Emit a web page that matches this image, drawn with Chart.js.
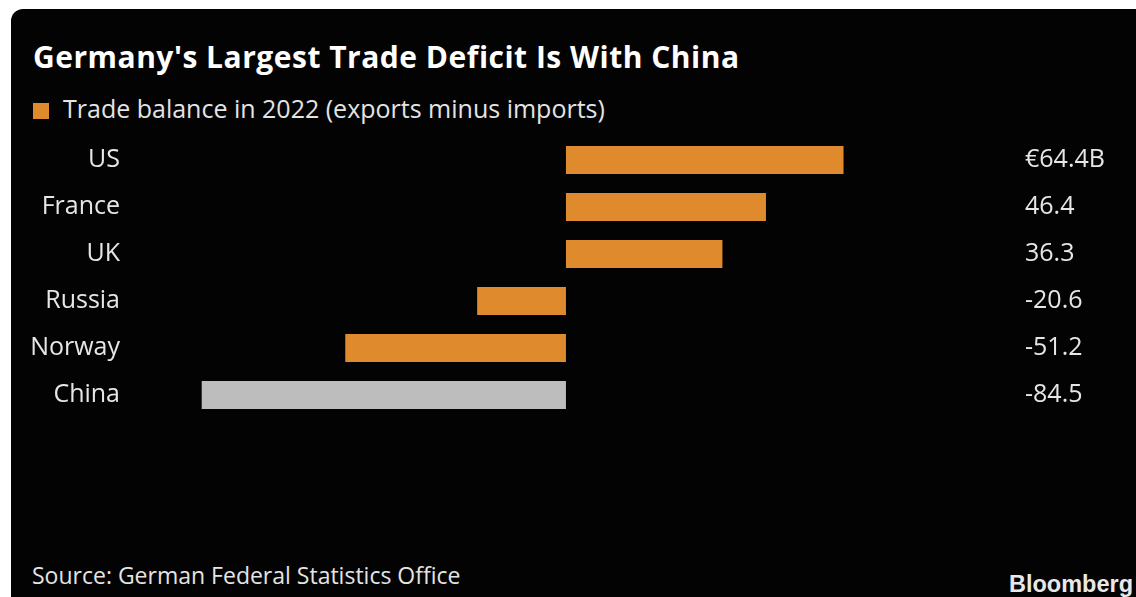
<!DOCTYPE html>
<html>
<head>
<meta charset="utf-8">
<script src="https://cdn.jsdelivr.net/npm/chart.js@4"></script>
<style>
  html, body { margin: 0; padding: 0; background: #fff; width: 1136px; height: 597px; overflow: hidden; }
  #panel { position: absolute; left: 11px; top: 9px; right: 0; bottom: 0; background: #030303; border-top-left-radius: 12px; }
  .txt { position: absolute; white-space: nowrap; line-height: 1; font-family: "Open Sans", sans-serif; }
  #title { left: 33px; top: 42px; font-size: 30px; font-weight: 700; color: #fff; letter-spacing: 0.5px; }
  #legendBox { position: absolute; left: 33px; top: 103px; width: 16px; height: 16px; background: #e08a2e; }
  #legendText { left: 63px; top: 96px; font-size: 25px; color: #e4e4e4; }
  #source { left: 32px; top: 564px; font-size: 23px; color: #e4e4e4; }
  #brand { right: 3px; top: 573px; font-size: 23.5px; font-weight: 700; color: #e8e8e8; font-family: "Liberation Sans", Arial, sans-serif; }
  #wrap { position: absolute; left: 0; top: 0; width: 1136px; height: 597px; }
</style>
</head>
<body>
<div id="panel"></div>
<div class="txt" id="title">Germany's Largest Trade Deficit Is With China</div>
<div id="legendBox"></div>
<div class="txt" id="legendText">Trade balance in 2022 (exports minus imports)</div>
<div class="txt" id="source">Source: German Federal Statistics Office</div>
<div class="txt" id="brand">Bloomberg</div>
<div id="wrap"><canvas id="myChart"></canvas></div>
<script>
(function () {
    "use strict";

    // Trade balance in 2022, billions of euros
    const countries = ['US', 'France', 'UK', 'Russia', 'Norway', 'China'];
    const balances = [64.4, 46.4, 36.3, -20.6, -51.2, -84.5];
    const barColors = ['#e08a2e', '#e08a2e', '#e08a2e', '#e08a2e', '#e08a2e', '#bdbdbd'];

    function valueLabel(i) {
        let v = balances[i].toFixed(1);
        return i === 0 ? '€' + v + 'B' : v;
    }

    let labelFont = { family: '"Open Sans", sans-serif', size: 25 };

    let ctx = document.getElementById('myChart').getContext('2d');
    new Chart(ctx, {
        type: 'bar',
        data: {
            labels: countries,
            datasets: [{
                data: balances,
                backgroundColor: barColors,
                borderWidth: 0,
                categoryPercentage: 1,
                barPercentage: 0.6
            }]
        },
        options: {
            indexAxis: 'y',
            responsive: true,
            maintainAspectRatio: false,
            animation: false,
            layout: {
                padding: { left: 20, right: 19, top: 136.5, bottom: 178.5 }
            },
            plugins: {
                legend: { display: false },
                tooltip: { enabled: false }
            },
            scales: {
                x: {
                    display: false,
                    min: -90,
                    max: 100
                },
                y: {
                    position: 'left',
                    grid: { display: false, drawTicks: false },
                    border: { display: false },
                    ticks: { color: '#e6e6e6', font: labelFont, padding: 58 },
                    afterFit: function (scale) { scale.width = 158; }
                },
                y2: {
                    type: 'category',
                    position: 'right',
                    offset: true,
                    labels: countries,
                    grid: { display: false, drawTicks: false },
                    border: { display: false },
                    ticks: {
                        color: '#e6e6e6',
                        font: labelFont,
                        padding: 28,
                        callback: function (value, index) { return valueLabel(index); }
                    },
                    afterFit: function (scale) { scale.width = 120; }
                }
            }
        }
    });
})();
</script>
</body>
</html>
